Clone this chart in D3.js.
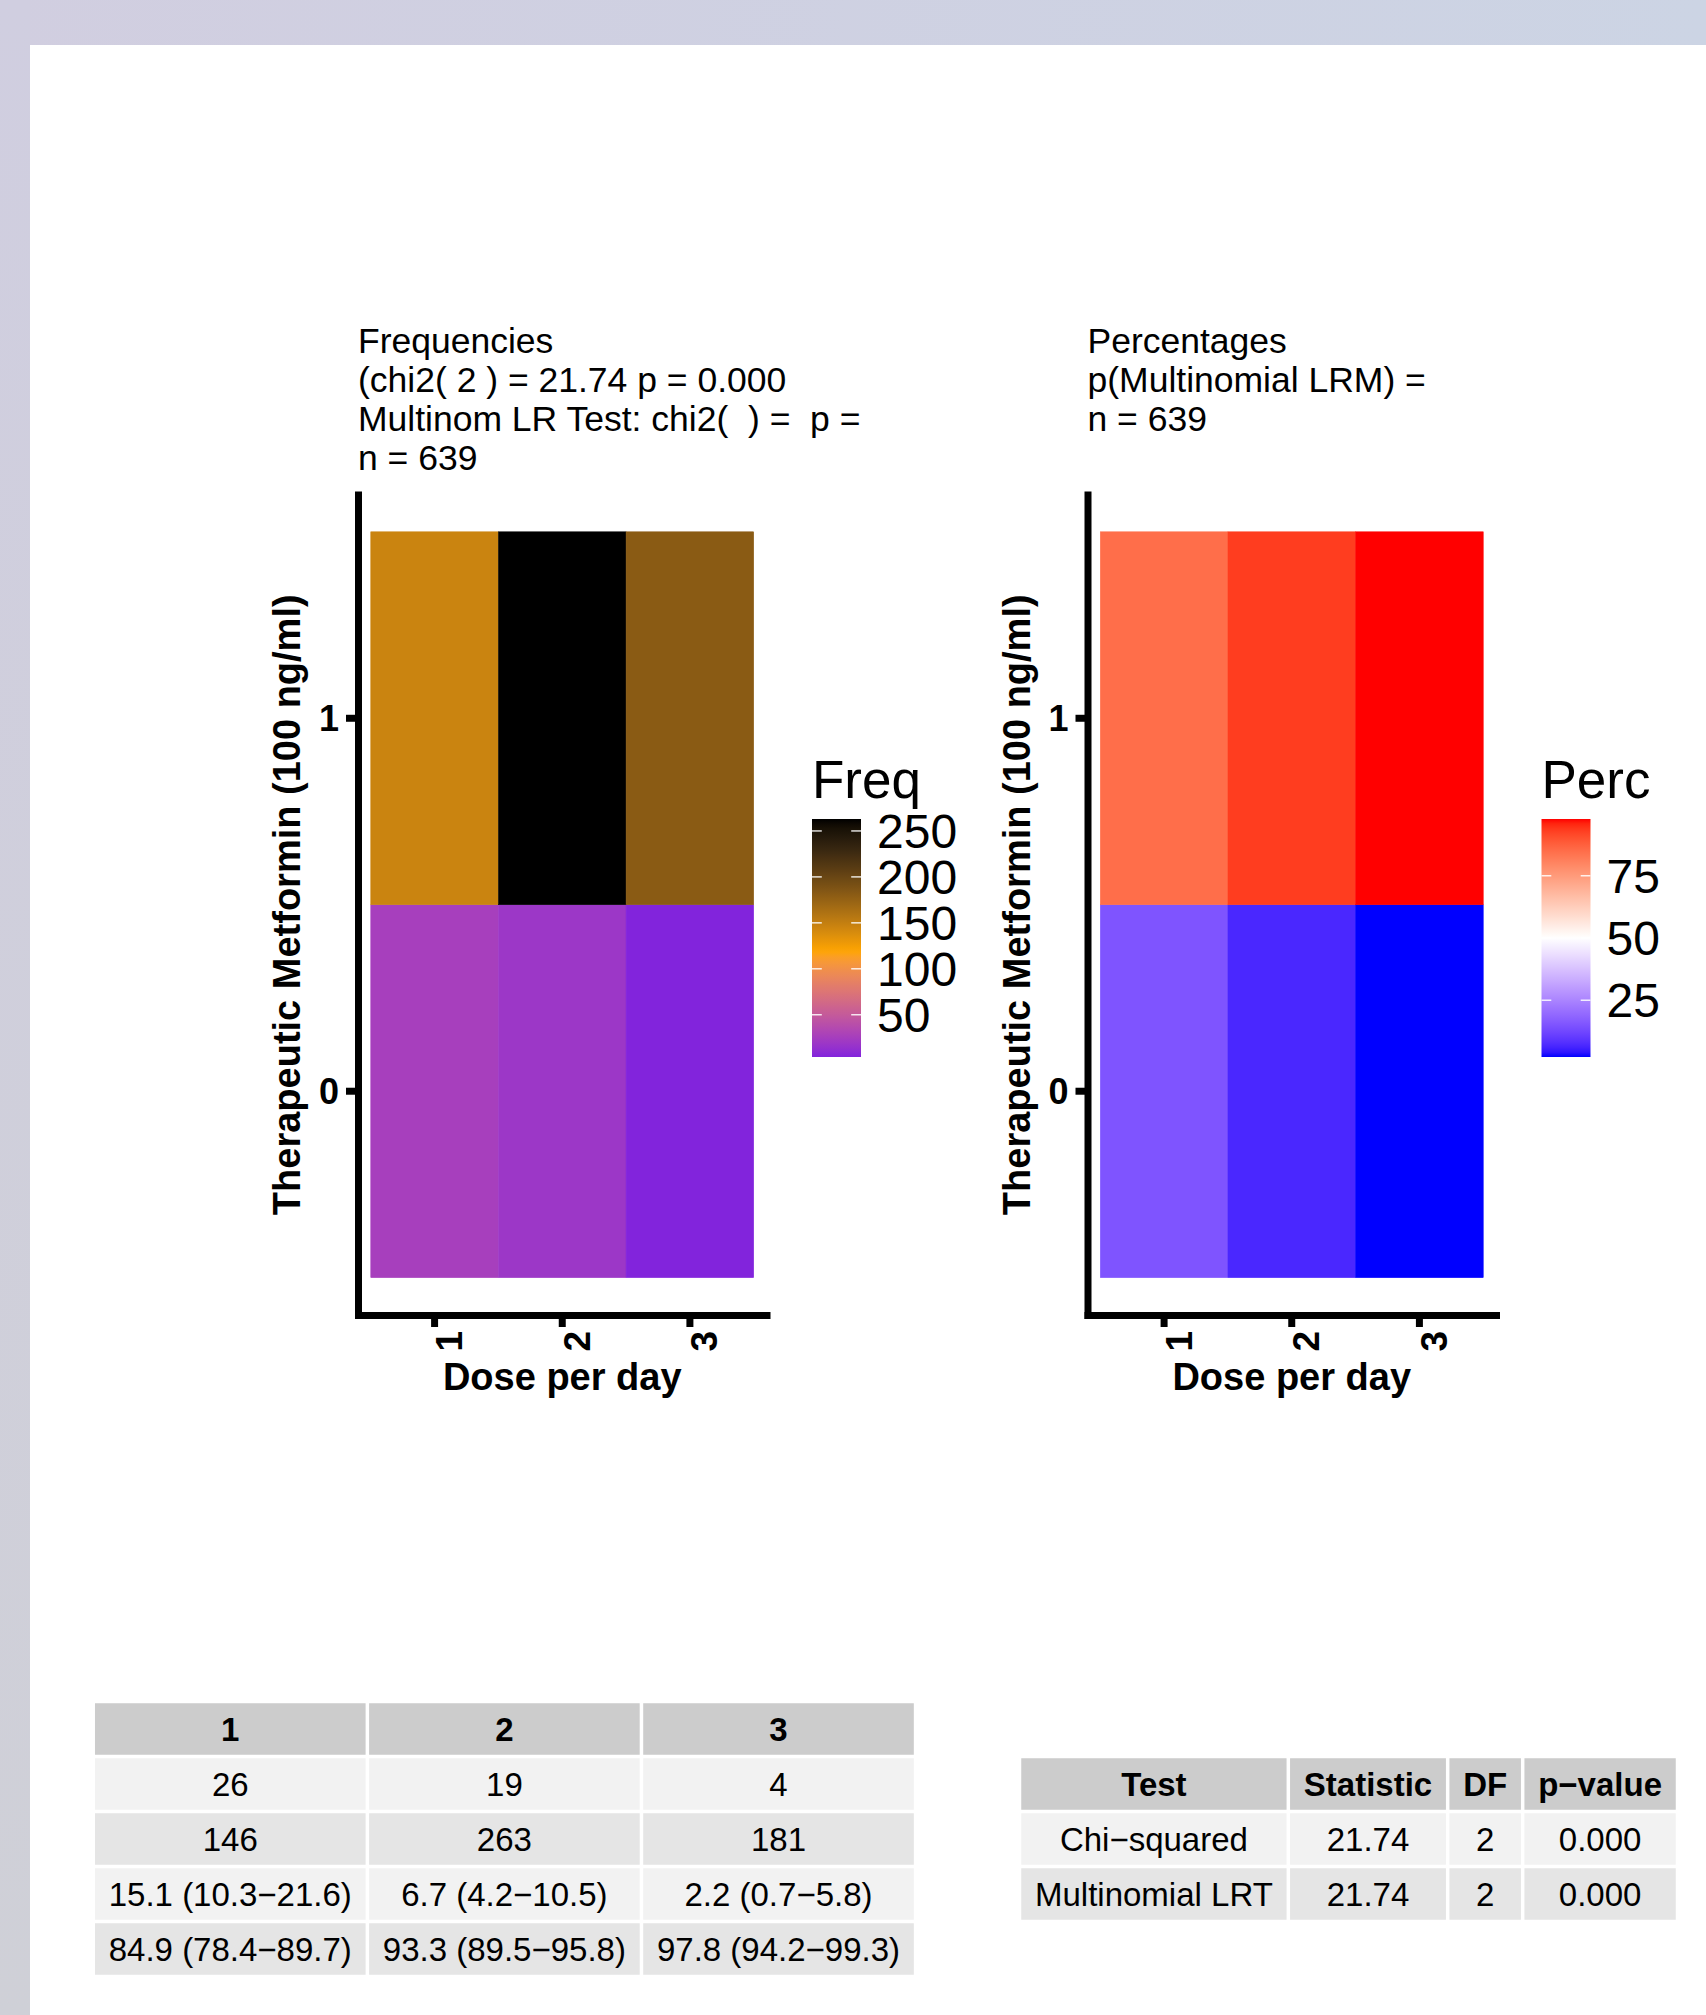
<!DOCTYPE html>
<html>
<head>
<meta charset="utf-8">
<script src="https://cdn.jsdelivr.net/npm/d3@7"></script>
<style>
    body { margin: 0; }
    svg { display: block; font-family: "Liberation Sans", Arial, sans-serif; }
</style>
</head>
<body>
<div id="chart"></div>
<script>
// ---- data ----
const doses = ["1", "2", "3"];
const metforminLevels = ["0", "1"];
const freqMet0 = [26, 19, 4];
const freqMet1 = [146, 263, 181];
const percMet0 = [15.1, 6.7, 2.2];
const percMet1 = [84.9, 93.3, 97.8];
const ciMet0 = ["15.1 (10.3−21.6)", "6.7 (4.2−10.5)", "2.2 (0.7−5.8)"];
const ciMet1 = ["84.9 (78.4−89.7)", "93.3 (89.5−95.8)", "97.8 (94.2−99.3)"];
const freqTicks = [50, 100, 150, 200, 250];
const percTicks = [25, 50, 75];
const freqTitle = ["Frequencies", "(chi2( 2 ) = 21.74 p = 0.000", "Multinom LR Test: chi2(  ) =  p =", "n = 639"];
const percTitle = ["Percentages", "p(Multinomial LRM) =", "n = 639"];
const testHeader = ["Test", "Statistic", "DF", "p−value"];
const testNames = ["Chi−squared", "Multinomial LRT"];
const testStats = ["21.74", "21.74"];
const testDf = ["2", "2"];
const testP = ["0.000", "0.000"];

const freqRows = [freqMet0, freqMet1];
const percRows = [percMet0, percMet1];
const cells = metforminLevels.flatMap((m, i) => doses.map((d, j) => ({
    met: m, dose: d, freq: freqRows[i][j], perc: percRows[i][j]
})));

const W = 1706, H = 2015;

const svg = d3.select("#chart").append("svg")
    .attr("width", W)
    .attr("height", H);

// page background (lavender frame + white sheet)
let defs = svg.append("defs");
let bg = defs.append("linearGradient").attr("id", "bgGrad")
    .attr("x1", 0).attr("x2", 1).attr("y1", 0).attr("y2", 0);
bg.append("stop").attr("offset", 0).attr("stop-color", "#d1cee0");
bg.append("stop").attr("offset", 1).attr("stop-color", "#ccd4e4");
let bgLeft = defs.append("linearGradient").attr("id", "bgLeft")
    .attr("x1", 0).attr("x2", 0).attr("y1", 0).attr("y2", 1);
bgLeft.append("stop").attr("offset", 0).attr("stop-color", "#d0cee0");
bgLeft.append("stop").attr("offset", 1).attr("stop-color", "#cfd0d7");

svg.append("rect").attr("width", W).attr("height", H).attr("fill", "url(#bgGrad)");
svg.append("rect").attr("width", 30).attr("height", H).attr("fill", "url(#bgLeft)");
svg.append("rect").attr("x", 30).attr("y", 45).attr("width", W - 30).attr("height", H - 45).attr("fill", "#fff");


class HeatPanel {

    constructor(_svg, _x0, _cells, _config) {
        this.svg = _svg;
        this.x0 = _x0;
        this.cells = _cells;
        this.config = _config;

        this.initVis();
    }

    initVis() {
        let vis = this;

        vis.left = vis.x0;
        vis.right = vis.x0 + 408.5;
        vis.top = 494.5;
        vis.bottom = 1315;

        vis.x = d3.scaleBand()
            .domain(doses)
            .range([vis.left, vis.right])
            .paddingInner(0)
            .paddingOuter(0.1);

        vis.y = d3.scaleBand()
            .domain(metforminLevels)
            .range([vis.bottom, vis.top])
            .paddingInner(0)
            .paddingOuter(0.1);

        vis.g = vis.svg.append("g");

        // multi-line title
        vis.g.selectAll(".title-line")
            .data(vis.config.title)
            .enter().append("text")
            .attr("class", "title-line")
            .attr("x", vis.left)
            .attr("y", (d, i) => 353 + i * 39)
            .style("font-size", "35.5px")
            .style("white-space", "pre")
            .text(d => d);

        // tiles
        vis.g.selectAll(".tile")
            .data(vis.cells)
            .enter().append("rect")
            .attr("class", "tile")
            .attr("x", d => vis.x(d.dose))
            .attr("y", d => vis.y(d.met))
            .attr("width", vis.x.bandwidth())
            .attr("height", vis.y.bandwidth())
            .attr("fill", d => vis.config.color(d[vis.config.key]))
            .attr("stroke", d => vis.config.color(d[vis.config.key]))
            .attr("stroke-width", 0.5);

        vis.drawAxes();
        vis.drawLegend();
    }

    drawAxes() {
        let vis = this;

        let yg = vis.g.append("g")
            .attr("transform", "translate(" + vis.left + ",0)")
            .call(d3.axisLeft(vis.y).tickSize(12).tickSizeOuter(0).tickPadding(7));
        yg.select(".domain").attr("stroke", "#000").attr("stroke-width", 7).attr("stroke-linecap", "square");
        yg.selectAll(".tick line").attr("stroke", "#000").attr("stroke-width", 7);
        yg.selectAll(".tick text")
            .attr("fill", "#000")
            .attr("dy", "0.36em")
            .style("font-size", "36px")
            .style("font-weight", "bold")
            .style("font-family", "Liberation Sans, Arial, sans-serif");

        let xg = vis.g.append("g")
            .attr("transform", "translate(0," + vis.bottom + ")")
            .call(d3.axisBottom(vis.x).tickSize(12).tickSizeOuter(0));
        xg.select(".domain").attr("stroke", "#000").attr("stroke-width", 7).attr("stroke-linecap", "square");
        xg.selectAll(".tick line").attr("stroke", "#000").attr("stroke-width", 7);
        xg.selectAll(".tick text")
            .attr("transform", "rotate(-90)")
            .attr("x", -16)
            .attr("y", 27.5)
            .attr("dy", null)
            .attr("fill", "#000")
            .style("text-anchor", "end")
            .style("font-size", "37px")
            .style("font-weight", "bold")
            .style("font-family", "Liberation Sans, Arial, sans-serif");

        // axis titles
        vis.g.append("text")
            .attr("x", (vis.left + vis.right) / 2)
            .attr("y", 1390)
            .style("text-anchor", "middle")
            .style("font-size", "38px")
            .style("font-weight", "bold")
            .text("Dose per day");

        vis.g.append("text")
            .attr("transform", "translate(" + (vis.left - 58) + "," + ((vis.top + vis.bottom) / 2) + ") rotate(-90)")
            .style("text-anchor", "middle")
            .style("font-size", "38px")
            .style("font-weight", "bold")
            .text("Therapeutic Metformin (100 ng/ml)");
    }

    drawLegend() {
        let vis = this;

        let vals = vis.cells.map(d => d[vis.config.key]);
        let lo = d3.min(vals), hi = d3.max(vals);
        let barX = vis.left + 454, barW = 49, barTop = 819, barBottom = 1057;

        vis.legendScale = d3.scaleLinear()
            .domain([lo, hi])
            .range([barBottom, barTop]);

        let gradId = "grad-" + vis.config.key;
        let grad = vis.svg.select("defs").append("linearGradient")
            .attr("id", gradId)
            .attr("x1", 0).attr("x2", 0).attr("y1", 1).attr("y2", 0);
        grad.selectAll("stop")
            .data(d3.range(0, 1.0001, 0.02))
            .enter().append("stop")
            .attr("offset", d => d)
            .attr("stop-color", d => vis.config.color(lo + d * (hi - lo)));

        vis.g.append("text")
            .attr("x", barX)
            .attr("y", 798)
            .style("font-size", "53px")
            .text(vis.config.legendTitle);

        vis.g.append("rect")
            .attr("x", barX)
            .attr("y", barTop)
            .attr("width", barW)
            .attr("height", barBottom - barTop)
            .attr("fill", "url(#" + gradId + ")");

        let ticks = vis.config.legendTicks.filter(v => v >= lo && v <= hi);

        // short white ticks on both edges of the bar
        [0, barW - barW / 5].forEach(off => {
            vis.g.selectAll(null)
                .data(ticks)
                .enter().append("line")
                .attr("x1", barX + off)
                .attr("x2", barX + off + barW / 5)
                .attr("y1", d => vis.legendScale(d))
                .attr("y2", d => vis.legendScale(d))
                .attr("stroke", "#fff")
                .attr("stroke-opacity", 0.85)
                .attr("stroke-width", 1.5);
        });

        vis.g.selectAll(".llabel")
            .data(ticks)
            .enter().append("text")
            .attr("class", "llabel")
            .attr("x", barX + barW + 16)
            .attr("y", d => vis.legendScale(d))
            .attr("dy", "0.35em")
            .style("font-size", "48px")
            .text(d => d);
    }
}


function drawTable(svg, header, rows, cx, cy) {
    let fontSize = 33, rowH = 55, gap = 3.5;

    // column widths follow the widest string, like tableGrob
    let measure = svg.append("text").style("font-size", fontSize + "px");
    let widths = header.map((h, j) => {
        let items = [{ t: h, bold: true }].concat(rows.map(r => ({ t: r[j], bold: false })));
        return d3.max(items, d => {
            measure.style("font-weight", d.bold ? "bold" : "normal").text(d.t);
            return measure.node().getComputedTextLength();
        }) + 31;
    });
    measure.remove();

    let totalW = d3.sum(widths);
    let allRows = [header].concat(rows);
    let x0 = cx - totalW / 2;
    let y0 = cy - allRows.length * rowH / 2;
    let colX = widths.map((w, j) => x0 + d3.sum(widths.slice(0, j)));

    let tg = svg.append("g");

    allRows.forEach((row, i) => {
        let fill = i === 0 ? "#cccccc" : (i % 2 === 1 ? "#f2f2f2" : "#e5e5e5");
        row.forEach((val, j) => {
            tg.append("rect")
                .attr("x", colX[j] + gap / 2)
                .attr("y", y0 + i * rowH + gap / 2)
                .attr("width", widths[j] - gap)
                .attr("height", rowH - gap)
                .attr("fill", fill);
            tg.append("text")
                .attr("x", colX[j] + widths[j] / 2)
                .attr("y", y0 + i * rowH + rowH / 2)
                .attr("dy", "0.35em")
                .style("text-anchor", "middle")
                .style("font-size", fontSize + "px")
                .style("font-weight", i === 0 ? "bold" : "normal")
                .text(val);
        });
    });
}


// colour scales (ggplot-style gradients, interpolated in Lab)
const freqColor = d3.scaleLinear()
    .domain([d3.min(cells, d => d.freq), 119, d3.max(cells, d => d.freq)])
    .range(["#8224dc", "#ffa500", "#000000"])
    .interpolate(d3.interpolateLab);

const percColor = d3.scaleLinear()
    .domain([d3.min(cells, d => d.perc), 50, d3.max(cells, d => d.perc)])
    .range(["#0000ff", "#ffffff", "#ff0000"])
    .interpolate(d3.interpolateLab);

new HeatPanel(svg, 358, cells, {
    key: "freq", color: freqColor, title: freqTitle, legendTitle: "Freq", legendTicks: freqTicks
});
new HeatPanel(svg, 1087.5, cells, {
    key: "perc", color: percColor, title: percTitle, legendTitle: "Perc", legendTicks: percTicks
});

drawTable(svg, doses, [freqMet0.map(String), freqMet1.map(String), ciMet0, ciMet1], 504.4, 1839);
drawTable(svg, testHeader, testNames.map((n, i) => [n, testStats[i], testDf[i], testP[i]]), 1348.5, 1839);
</script>
</body>
</html>
